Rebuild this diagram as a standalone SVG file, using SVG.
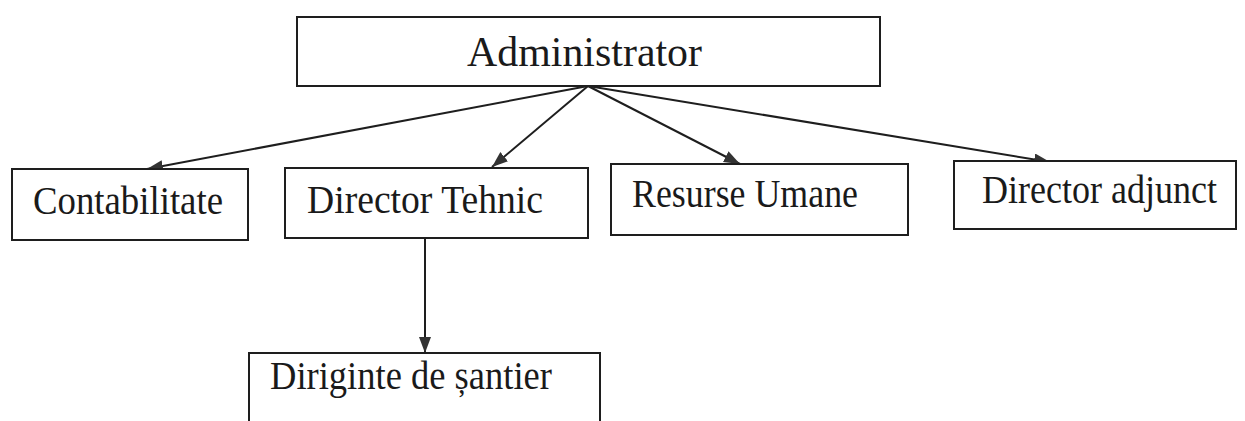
<svg xmlns="http://www.w3.org/2000/svg" width="1245" height="421" viewBox="0 0 1245 421">
<style>
.box{fill:#ffffff;stroke:#1e1e1e;stroke-width:2}
.lbl{font-family:"Liberation Serif","Times New Roman",serif;fill:#1a1a1a}
.edge{stroke:#1e1e1e;stroke-width:2;fill:none;marker-end:url(#ah)}
</style>
<defs>
<marker id="ah" markerUnits="userSpaceOnUse" markerWidth="18" markerHeight="14" refX="16" refY="6" orient="auto">
<path d="M0,0 L16,6 L0,12 z" fill="#333333"/>
</marker>
</defs>
<rect width="1245" height="421" fill="#ffffff"/>
<g id="connectors">
<line class="edge" x1="588" y1="86" x2="147" y2="169"/>
<line class="edge" x1="588" y1="86" x2="492" y2="167"/>
<line class="edge" x1="588" y1="86" x2="740" y2="164"/>
<line class="edge" x1="588" y1="86" x2="1050" y2="162"/>
<line class="edge" x1="425" y1="238" x2="425" y2="353"/>
</g>
<g id="administrator">
<rect class="box" x="297" y="17" width="583" height="69"/>
<text class="lbl" x="467" y="66" font-size="43" textLength="235" lengthAdjust="spacingAndGlyphs">Administrator</text>
</g>
<g id="contabilitate">
<rect class="box" x="12" y="169" width="236" height="71"/>
<text class="lbl" x="33" y="214" font-size="39" textLength="190" lengthAdjust="spacingAndGlyphs">Contabilitate</text>
</g>
<g id="director-tehnic">
<rect class="box" x="285" y="168" width="303" height="70"/>
<text class="lbl" x="307" y="213" font-size="39" textLength="236" lengthAdjust="spacingAndGlyphs">Director Tehnic</text>
</g>
<g id="resurse-umane">
<rect class="box" x="611" y="164" width="297" height="71"/>
<text class="lbl" x="632" y="207" font-size="39" textLength="226" lengthAdjust="spacingAndGlyphs">Resurse Umane</text>
</g>
<g id="director-adjunct">
<rect class="box" x="954" y="161" width="282" height="68"/>
<text class="lbl" x="982" y="203" font-size="39" textLength="235" lengthAdjust="spacingAndGlyphs">Director adjunct</text>
</g>
<g id="diriginte">
<rect class="box" x="249" y="353" width="351" height="80"/>
<text class="lbl" x="270" y="389" font-size="39" textLength="282" lengthAdjust="spacingAndGlyphs">Diriginte de șantier</text>
</g>
</svg>
